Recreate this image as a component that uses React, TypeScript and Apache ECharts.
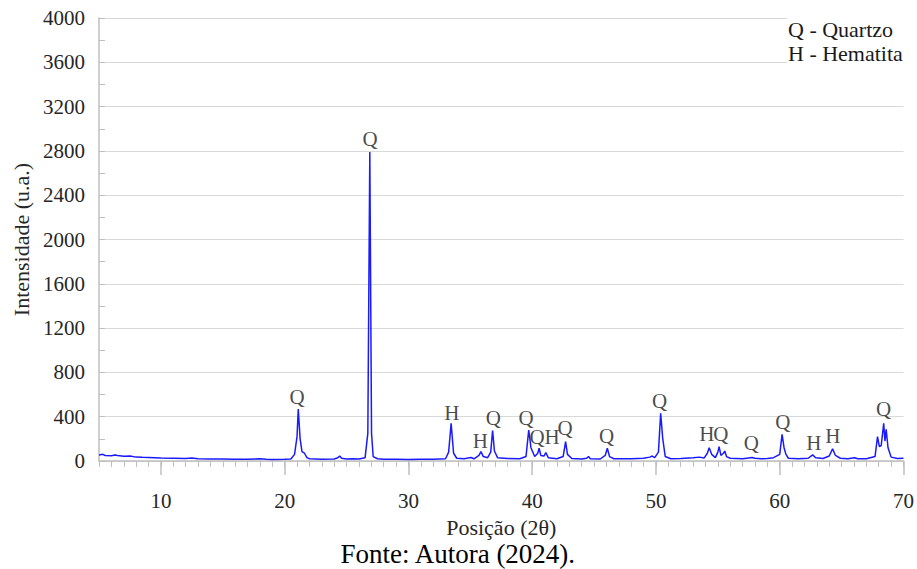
import React, { useEffect, useRef } from "react";
import * as echarts from "echarts";

// Diffractogram: [2θ, intensity]
const pattern: [number, number][] = [
  [5, 55], [5.3, 60], [5.5, 50], [6, 48], [6.3, 55], [6.5, 50], [7, 42], [7.5, 45], [8, 35], [8.5, 33],
  [9, 32], [9.5, 30], [10, 28], [11, 25], [12, 22], [12.5, 28], [13, 20], [14, 18], [15, 17], [16, 16],
  [17, 16], [18, 20], [18.5, 15], [19, 14], [20, 15], [20.5, 18], [20.8, 60], [21.0, 220], [21.1, 470],
  [21.25, 200], [21.4, 85], [21.6, 70], [21.8, 30], [22, 20], [23, 15], [24, 18], [24.3, 30], [24.45, 45],
  [24.6, 25], [25, 18], [25.5, 20], [26, 18], [26.5, 30], [26.72, 250], [26.88, 2790], [27.02, 250],
  [27.15, 40], [27.5, 20], [28, 15], [29, 15], [30, 14], [31, 16], [32, 15], [33, 20], [33.25, 80],
  [33.45, 340], [33.65, 70], [33.9, 25], [34.5, 20], [35.05, 32], [35.3, 20], [35.7, 50], [35.86, 85],
  [36.05, 40], [36.4, 30], [36.65, 80], [36.8, 275], [36.95, 90], [37.2, 30], [38, 22], [39, 20], [39.5, 40],
  [39.72, 280], [39.9, 120], [40.2, 40], [40.45, 70], [40.56, 115], [40.7, 50], [40.95, 45], [41.1, 75],
  [41.3, 30], [42, 20], [42.5, 40], [42.7, 175], [42.85, 60], [43.2, 22], [44, 18], [44.4, 25], [44.55, 40],
  [44.7, 20], [45.5, 18], [45.9, 50], [46.07, 115], [46.25, 40], [46.6, 20], [48, 20], [49, 25], [49.5, 35],
  [49.7, 45], [49.9, 30], [50.2, 80], [50.38, 430], [50.55, 200], [50.75, 40], [51.2, 20], [52, 22], [53, 30],
  [53.5, 35], [53.9, 28], [54.15, 70], [54.3, 120], [54.5, 60], [54.8, 30], [55.0, 80], [55.1, 130],
  [55.25, 50], [55.45, 70], [55.56, 90], [55.7, 40], [56, 25], [57, 20], [57.5, 28], [57.76, 32], [58, 25],
  [58.5, 20], [59, 22], [59.5, 30], [60.0, 60], [60.19, 240], [60.35, 120], [60.5, 60], [60.7, 25], [61.5, 20],
  [62.3, 25], [62.66, 55], [62.9, 30], [63.5, 22], [64.0, 45], [64.27, 110], [64.5, 50], [64.9, 25], [65.5, 20],
  [66.05, 30], [66.3, 20], [67, 20], [67.7, 40], [67.9, 220], [68.05, 130], [68.2, 140], [68.4, 340],
  [68.5, 180], [68.6, 285], [68.75, 120], [69, 35], [69.5, 22], [70, 25],
];

// Phase labels over peaks: [2θ, intensity, label]
const peakLabels: [number, number, string][] = [
  [21.0, 578, "Q"], [26.9, 2908, "Q"], [33.5, 433, "H"], [35.8, 180, "H"], [36.85, 388, "Q"],
  [39.5, 388, "Q"], [40.4, 217, "Q"], [41.6, 217, "H"], [42.65, 298, "Q"], [46.0, 226, "Q"],
  [50.3, 542, "Q"], [54.1, 244, "H"], [55.25, 244, "Q"], [57.7, 163, "Q"], [60.25, 352, "Q"],
  [62.75, 163, "H"], [64.3, 226, "H"], [68.4, 470, "Q"],
];

const xMajorTicks = [10, 20, 30, 40, 50, 60, 70];
const xMinorTicks = Array.from({ length: 66 }, (_, i) => 5 + i);
const legendLines = ["Q - Quartzo", "H - Hematita"];

const FONT = "Liberation Serif";

export default function App() {
  const ref = useRef<HTMLDivElement>(null);
  useEffect(() => {
    if (!ref.current) return;
    const chart = echarts.init(ref.current, null, { renderer: "svg" });
    chart.setOption({
      animation: false,
      backgroundColor: "#fff",
      textStyle: { fontFamily: FONT },
      grid: { left: 99, right: 12, top: 18, bottom: 108 },
      xAxis: [
        {
          type: "value",
          min: 5,
          max: 70,
          name: "Posição (2θ)",
          nameLocation: "middle",
          nameGap: 55,
          nameTextStyle: { fontFamily: FONT, fontSize: 22, color: "#262626" },
          axisLine: { show: true, lineStyle: { color: "#bfbfbf", width: 1.5 } },
          axisTick: { show: true, customValues: xMajorTicks, length: 14, lineStyle: { color: "#bfbfbf", width: 1.5 } },
          axisLabel: { customValues: xMajorTicks, margin: 29, fontFamily: FONT, fontSize: 21, color: "#262626" },
          splitLine: { show: false },
        },
        {
          type: "value",
          min: 5,
          max: 70,
          position: "bottom",
          axisLine: { show: false },
          axisTick: { show: true, customValues: xMinorTicks, length: 6, lineStyle: { color: "#bfbfbf", width: 1 } },
          axisLabel: { show: false },
          splitLine: { show: false },
        },
      ],
      yAxis: {
        type: "value",
        min: 0,
        max: 4000,
        interval: 400,
        name: "Intensidade (u.a.)",
        nameLocation: "middle",
        nameGap: 66,
        nameTextStyle: { fontFamily: FONT, fontSize: 22, color: "#262626" },
        axisLine: { show: true, lineStyle: { color: "#bfbfbf", width: 1.5 } },
        axisTick: { show: true, inside: true, length: 6, lineStyle: { color: "#bfbfbf" } },
        minorTick: { show: true, splitNumber: 2, length: 6, lineStyle: { color: "#bfbfbf" } },
        axisLabel: { margin: 14, fontFamily: FONT, fontSize: 21, color: "#262626", formatter: (v: number) => String(v) },
        splitLine: { show: true, lineStyle: { color: "#d9d9d9", width: 1.2 } },
      },
      series: [
        {
          type: "line",
          data: pattern,
          showSymbol: false,
          symbol: "none",
          lineStyle: { color: "#1a1aff", width: 1.5 },
          z: 3,
        },
        {
          type: "scatter",
          data: peakLabels.map((p) => ({ value: [p[0], p[1]], name: p[2] })),
          symbolSize: 0,
          label: {
            show: true,
            position: "inside",
            formatter: (p: any) => p.name,
            fontFamily: FONT,
            fontSize: 21,
            color: "#1a1a1a",
          },
          z: 4,
        },
      ],
      graphic: [
        { type: "rect", left: 787, top: 10, shape: { width: 130, height: 60 }, style: { fill: "#fff" }, z: 10 },
        ...legendLines.map((t, i) => ({
          type: "text",
          left: 788,
          top: 18 + i * 24,
          style: { text: t, fontFamily: FONT, fontSize: 22, fill: "#1a1a1a" },
          z: 11,
        })),
        {
          type: "text",
          left: "center",
          top: 540,
          style: { text: "Fonte: Autora (2024).", fontFamily: FONT, fontSize: 27, fill: "#000" },
          z: 11,
        },
      ],
    });
    return () => chart.dispose();
  }, []);
  return <div ref={ref} style={{ width: 917, height: 569, position: "absolute", left: 0, top: 0 }} />;
}
